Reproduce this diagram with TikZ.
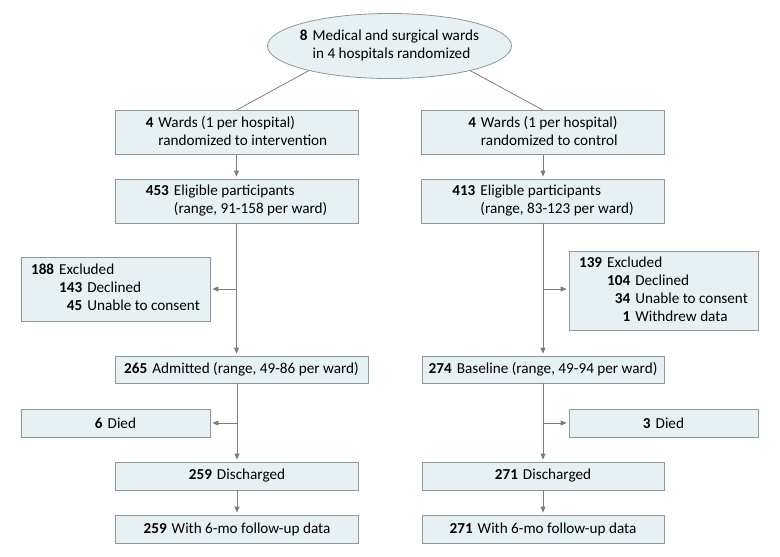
\documentclass[tikz,border=0pt]{standalone}
\usepackage{fontspec}
\setmainfont{Carlito}
\usepackage{xcolor}
\usepackage{tikz}
\usetikzlibrary{arrows.meta,shapes.geometric,positioning}
\definecolor{relleno}{RGB}{231,241,244}
\definecolor{borde}{RGB}{140,152,156}
\definecolor{trazo}{RGB}{125,125,125}
\tikzset{
  caja/.style={draw=borde,fill=relleno,line width=0.8pt,minimum width=243pt,inner sep=2pt,align=center},
  caja1/.style={caja,minimum height=28pt},
  caja2/.style={caja,minimum height=44pt},
  lateral/.style={caja,minimum width=189pt},
  ovalo/.style={ellipse,draw=borde,fill=relleno,line width=0.8pt,minimum width=244pt,minimum height=65pt,inner xsep=-4pt,inner ysep=0pt},
  linea/.style={draw=trazo,line width=0.8pt},
  flecha/.style={linea,-{Triangle[length=6pt,width=5pt]},shorten >=2pt}
}
\newcommand{\cifra}[1]{\textbf{#1}\hspace{5pt}}
\newcommand{\dosl}[3]{\begin{tabular}{@{}r@{\hspace{5pt}}l@{}}\textbf{#1}&#2\\&#3\end{tabular}}

\begin{document}
\begin{tikzpicture}[x=1pt,y=-1pt,font=\fontsize{15.2}{18}\selectfont]
\useasboundingbox (0,0) rectangle (780,557);
% aleatorizacion
\node[ovalo] (ov) at (389.5,46) {\dosl{8}{Medical and surgical wards}{in 4 hospitals randomized}};
\node[caja2] (izq1) at (236.5,132.5) {\dosl{4}{Wards (1 per hospital)}{randomized to intervention}};
\node[caja2] (der1) at (543,132.5) {\dosl{4}{Wards (1 per hospital)}{randomized to control}};
\draw[linea] (ov.197) -- (izq1.north);
\draw[linea] (ov.343) -- (der1.north);
% elegibles
\node[caja2] (izq2) at (236.5,201) {\dosl{453}{Eligible participants}{(range, 91-158 per ward)}};
\node[caja2] (der2) at (543,201) {\dosl{413}{Eligible participants}{(range, 83-123 per ward)}};
\draw[flecha] (izq1) -- (izq2);
\draw[flecha] (der1) -- (der2);
% excluidos
\node[lateral,minimum height=64pt] (exizq) at (115.5,289) {\begin{tabular}{@{}r@{\hspace{5pt}}r@{\hspace{5pt}}l@{}}
  \textbf{188}&\multicolumn{2}{@{}l@{}}{Excluded}\\
  &\textbf{143}&Declined\\
  &\textbf{45}&Unable to consent\end{tabular}};
\node[lateral,minimum height=79pt] (exder) at (663.5,290.5) {\begin{tabular}{@{}r@{\hspace{5pt}}r@{\hspace{5pt}}l@{}}
  \textbf{139}&\multicolumn{2}{@{}l@{}}{Excluded}\\
  &\textbf{104}&Declined\\
  &\textbf{34}&Unable to consent\\
  &\textbf{1}&Withdrew data\end{tabular}};
% admitidos / basal
\node[caja1,minimum width=253pt,minimum height=27pt] (izq3) at (241.5,369.5) {\cifra{265}Admitted (range, 49-86 per ward)};
\node[caja1,minimum width=242pt,minimum height=27pt] (der3) at (543,369.5) {\cifra{274}Baseline (range, 49-94 per ward)};
\coordinate (ramizq1) at (izq2.south |- exizq.east);
\coordinate (ramder1) at (der2.south |- 0,289);
\draw[flecha] (izq2.south) -- (izq2.south |- izq3.north);
\draw[flecha] (der2.south) -- (der2.south |- der3.north);
\draw[flecha] (ramizq1) -- (exizq.east |- ramizq1);
\draw[flecha] (ramder1) -- (exder.west |- ramder1);
% fallecidos
\node[lateral,minimum height=28pt] (mizq) at (115.5,423) {\cifra{6}Died};
\node[lateral,minimum height=28pt] (mder) at (663.5,423) {\cifra{3}Died};
\node[caja1] (izq4) at (237,476) {\cifra{259}Discharged};
\node[caja1,minimum width=242pt] (der4) at (543,476) {\cifra{271}Discharged};
\coordinate (ramizq2) at (izq4.north |- mizq.east);
\coordinate (ramder2) at (der4.north |- mder.west);
\draw[flecha] (izq4.north |- izq3.south) -- (izq4.north);
\draw[flecha] (der3.south) -- (der4.north);
\draw[flecha] (ramizq2) -- (mizq.east);
\draw[flecha] (ramder2) -- (mder.west);
% seguimiento
\node[caja1] (izq5) at (237,529) {\cifra{259}With 6-mo follow-up data};
\node[caja1,minimum width=242pt] (der5) at (543,529) {\cifra{271}With 6-mo follow-up data};
\draw[flecha] (izq4) -- (izq5);
\draw[flecha] (der4) -- (der5);
\end{tikzpicture}
\end{document}
